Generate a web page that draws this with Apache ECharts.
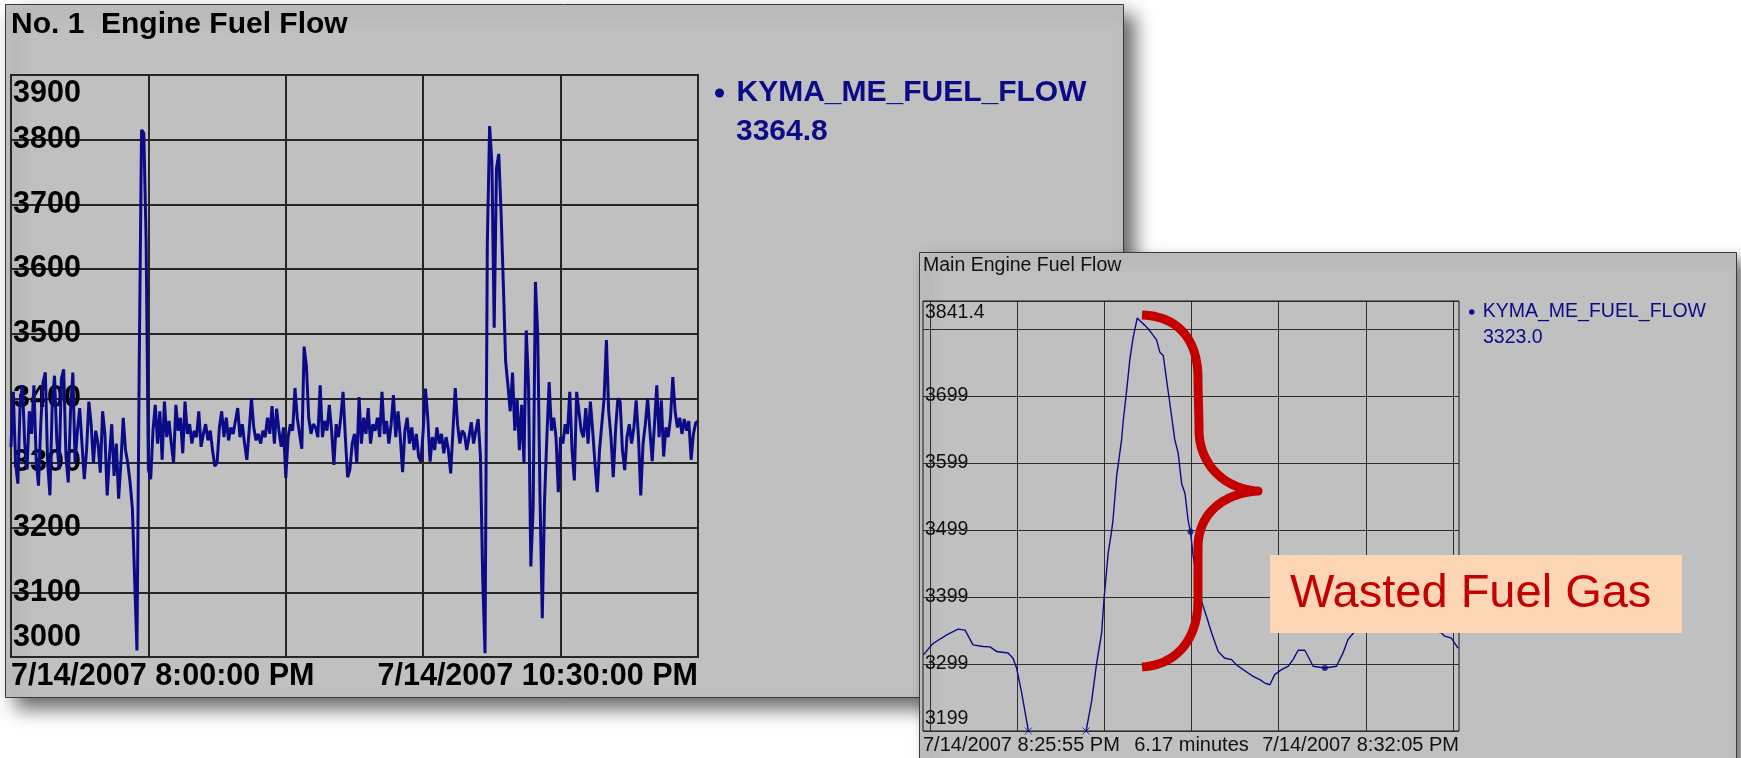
<!DOCTYPE html>
<html>
<head>
<meta charset="utf-8">
<title>Engine Fuel Flow</title>
<script src="https://cdn.jsdelivr.net/npm/echarts@6/dist/echarts.min.js"></script>
<style>
  html, body { margin: 0; padding: 0; background: #ffffff; }
  #chart { width: 1741px; height: 758px; }
</style>
</head>
<body>
<div id="chart"></div>
<script>
// ---- data -------------------------------------------------------------
const seriesName = 'KYMA_ME_FUEL_FLOW';

// No. 1 engine: one reading every 30 s, 8:00 PM .. 10:30 PM (x = minutes after 8:00 PM)
const leftStepMinutes = 0.5;
const leftValues = [
  3325, 3410, 3300, 3268, 3395, 3420, 3330, 3290, 3380, 3345,
  3420, 3305, 3265, 3360, 3425, 3440, 3300, 3250, 3390, 3435,
  3335, 3290, 3430, 3445, 3310, 3270, 3380, 3440, 3300, 3350,
  3385, 3330, 3275, 3320, 3395, 3360, 3300, 3350, 3330, 3285,
  3380, 3345, 3250, 3310, 3360, 3280, 3330, 3245, 3300, 3370,
  3320, 3300, 3270, 3230, 3120, 3010, 3455, 3815, 3810, 3645,
  3290, 3275, 3350, 3390, 3330, 3380, 3305, 3395, 3340, 3365,
  3330, 3300, 3390, 3350, 3370, 3315, 3395, 3345, 3360, 3330,
  3350, 3340, 3380, 3325, 3345, 3360, 3335, 3350, 3320, 3295,
  3300, 3355, 3380, 3340, 3370, 3335, 3355, 3345, 3365, 3385,
  3340, 3360, 3330, 3305, 3350, 3400, 3355, 3335, 3345, 3330,
  3350, 3340, 3370, 3345, 3388, 3330, 3384, 3350, 3325, 3355,
  3277, 3340, 3360, 3350, 3416, 3370, 3345, 3322, 3480, 3450,
  3370, 3345, 3360, 3355, 3340, 3420, 3340, 3365, 3350, 3390,
  3350, 3297, 3360, 3340, 3370, 3410, 3340, 3278, 3290, 3330,
  3345, 3300, 3402, 3330, 3370, 3345, 3385, 3330, 3360, 3350,
  3370, 3340, 3410, 3345, 3365, 3330, 3360, 3405, 3340, 3380,
  3340, 3286, 3350, 3370, 3330, 3355, 3320, 3345, 3310, 3302,
  3350, 3415, 3370, 3302, 3340, 3320, 3355, 3330, 3345, 3315,
  3340, 3320, 3284, 3350, 3416, 3360, 3330, 3350, 3345, 3320,
  3340, 3363, 3330, 3350, 3368, 3310, 3120, 3006, 3640, 3821,
  3764, 3509, 3756, 3778, 3688, 3575, 3457, 3420, 3380, 3440,
  3350, 3400, 3320, 3390, 3300, 3505, 3420, 3140, 3230, 3580,
  3500, 3250, 3060, 3243, 3340, 3425, 3350, 3370, 3340, 3255,
  3340, 3330, 3360, 3345, 3410, 3320, 3273, 3410, 3380, 3350,
  3340, 3385, 3330, 3395, 3350, 3300, 3255, 3320, 3360, 3400,
  3490, 3380, 3340, 3278, 3350, 3400, 3395, 3320, 3289, 3340,
  3360, 3330, 3355, 3397, 3340, 3250, 3330, 3360, 3400, 3350,
  3303, 3360, 3420, 3340, 3397, 3310, 3355, 3340, 3370, 3433,
  3380, 3355, 3370, 3345, 3368, 3350, 3365, 3305, 3345, 3362, 3364.8
];
const leftXRange = [0, 150];          // minutes
const leftYRange = [3000, 3900];
const leftTimeLabels = ['7/14/2007 8:00:00 PM', '7/14/2007 10:30:00 PM'];

// Main engine close-up: seconds after 8:25:55 PM and the archived value at that time
const rightSeconds = [
  -4.7, 0, 2.1, 11.8, 19.8, 24.8, 30.4, 37.5, 42.5, 47.2,
  55.2, 58.7, 61.3, 64.9, 69.5, 75, 80, 88, 96, 104,
  110.4, 114.4, 117.9, 121.5, 123.1, 126.1, 128.6, 129.5, 132.1, 135.6,
  136.8, 139.2, 141.5, 143.8, 146.7, 148.6, 152.1, 154.4, 158, 160.4,
  162.7, 165.1, 167.5, 169.8, 173.3, 175.7, 178.1, 180.5, 182.7, 184.4,
  186.3, 188.7, 192.2, 195.8, 199.3, 204, 208.7, 213.5, 217, 221.7,
  225.2, 228.7, 233.5, 237, 240.6, 244, 248.8, 253.5, 257, 260.6,
  265.3, 267.6, 271.2, 279.5, 287.7, 292.4, 295.9, 300.7, 303, 308,
  315, 322, 330, 337, 343, 362, 364.4, 369.1, 373.8
];
const rightValues = [
  3313, 3325, 3330, 3343, 3351.5, 3350, 3328, 3325.6, 3325, 3318,
  3315.8, 3308, 3293, 3256, 3201, 3140, 3100, 3080, 3090, 3140,
  3199, 3244, 3300, 3346, 3395, 3465, 3499, 3514, 3580, 3634,
  3663, 3708, 3755, 3787, 3816, 3812, 3805, 3800, 3790, 3783,
  3765, 3760, 3723, 3688, 3634, 3614, 3569, 3554, 3514, 3497,
  3460, 3430, 3393, 3370, 3346, 3318, 3308, 3306, 3298, 3291,
  3286, 3281, 3276, 3271, 3268.5, 3283.5, 3291, 3296, 3306, 3320,
  3320, 3311, 3296, 3293.5, 3296, 3316, 3336, 3348, 3358, 3375,
  3385, 3390, 3380, 3362, 3352, 3346, 3341, 3338, 3323.0
];
const rightMarkedReadings = [49, 73];          // readings shown with a dot
const rightOffScaleSeconds = [69.6, 110.4];    // where the trace leaves / re-enters the scale
const rightXRange = [-5, 374.5];               // seconds, full plot frame
const rightSpan = [0, 370];                    // 6.17 minute window
const rightYRange = [3199.4, 3841.4];
const rightTimeLabels = ['7/14/2007 8:25:55 PM', '6.17 minutes', '7/14/2007 8:32:05 PM'];

// ---- styling ----------------------------------------------------------
const FONT = '"Liberation Sans", Arial, sans-serif';
const NAVY = '#0b0b88';
const RED = '#c40000';
const near = (a, b) => Math.abs(a - b) < 0.01;

// flatten a chain of cubic Bézier segments into polyline points (for the brace)
function bezierChain(start, segments, steps) {
  const pts = [start.slice()];
  let p0 = start;
  segments.forEach(seg => {
    const [c1, c2, p3] = seg;
    for (let k = 1; k <= steps; k++) {
      const t = k / steps, u = 1 - t;
      pts.push([
        u * u * u * p0[0] + 3 * u * u * t * c1[0] + 3 * u * t * t * c2[0] + t * t * t * p3[0],
        u * u * u * p0[1] + 3 * u * u * t * c1[1] + 3 * u * t * t * c2[1] + t * t * t * p3[1]
      ]);
    }
    p0 = p3;
  });
  return pts;
}
const bracePoints = bezierChain([1142, 315], [
  [[1180, 316], [1198, 342], [1198, 378]],
  [[1198, 395], [1199, 413], [1199, 430]],
  [[1199, 462], [1222, 489], [1258, 491]],
  [[1225, 493], [1198, 512], [1198, 548]],
  [[1198, 565], [1198, 583], [1198, 600]],
  [[1198, 640], [1176, 665], [1142, 667]]
], 24);

const chart = echarts.init(document.getElementById('chart'), null, { renderer: 'canvas' });

const bigLabel = { fontFamily: FONT, fontSize: 30.5, fontWeight: 'bold', color: '#000' };
const smallLabel = { fontFamily: FONT, fontSize: 19.5, fontWeight: 'normal', color: '#111' };
const smallTimeLabel = { fontFamily: FONT, fontSize: 20, fontWeight: 'normal', color: '#111' };

const hiddenAxisParts = {
  axisLine: { show: false },
  axisTick: { show: false }
};

const option = {
  animation: false,
  backgroundColor: '#ffffff',
  title: [
    { text: 'No. 1  Engine Fuel Flow', left: 11, top: 10, padding: 0, z: 3,
      textStyle: { fontFamily: FONT, fontSize: 30, fontWeight: 'bold', color: '#000' } },
    { text: 'Main Engine Fuel Flow', left: 923, top: 256, padding: 0, z: 7,
      textStyle: { fontFamily: FONT, fontSize: 19.5, fontWeight: 'normal', color: '#111' } }
  ],
  legend: [
    { left: 715, top: 78, padding: 0, icon: 'circle', itemWidth: 24, itemHeight: 9,
      selectedMode: false, data: [seriesName], z: 3,
      textStyle: { fontFamily: FONT, fontSize: 30, fontWeight: 'bold', color: NAVY } },
    { left: 1469, top: 302, padding: 0, icon: 'circle', itemWidth: 12, itemHeight: 5.5,
      selectedMode: false, data: [seriesName], z: 7,
      textStyle: { fontFamily: FONT, fontSize: 19.5, color: NAVY } }
  ],
  grid: [
    { left: 11, top: 75, width: 687, height: 582, show: true, borderColor: '#111', borderWidth: 2, z: 1 },
    { left: 923, top: 301, width: 536, height: 430, show: true, borderColor: '#151515', borderWidth: 1, z: 5 },
    { left: 930, top: 301, width: 523, height: 430, show: false, z: 5 }
  ],
  xAxis: [
    // left trend: 30 minute divisions, start label
    { gridIndex: 0, type: 'value', position: 'bottom', min: leftXRange[0], max: leftXRange[1], interval: 30, z: 1,
      ...hiddenAxisParts,
      splitLine: { show: true, lineStyle: { color: '#262626', width: 2 } },
      axisLabel: { ...bigLabel, margin: 4, align: 'left', showMinLabel: true, showMaxLabel: true,
        formatter: v => near(v, leftXRange[0]) ? leftTimeLabels[0] : '' } },
    // left trend: end label
    { gridIndex: 0, type: 'value', position: 'bottom', min: leftXRange[0], max: leftXRange[1], interval: 30, z: 1,
      ...hiddenAxisParts, splitLine: { show: false },
      axisLabel: { ...bigLabel, margin: 4, align: 'right', showMinLabel: true, showMaxLabel: true,
        formatter: v => near(v, leftXRange[1]) ? leftTimeLabels[1] : '' } },
    // close-up: data axis over the full frame, start label
    { gridIndex: 1, type: 'value', position: 'bottom', min: rightXRange[0], max: rightXRange[1],
      interval: rightXRange[1] - rightXRange[0], z: 5,
      ...hiddenAxisParts, splitLine: { show: false },
      axisLabel: { ...smallTimeLabel, margin: 4, align: 'left', showMinLabel: true, showMaxLabel: true,
        formatter: v => near(v, rightXRange[0]) ? rightTimeLabels[0] : '' } },
    // close-up: end label
    { gridIndex: 1, type: 'value', position: 'bottom', min: rightXRange[0], max: rightXRange[1],
      interval: rightXRange[1] - rightXRange[0], z: 5,
      ...hiddenAxisParts, splitLine: { show: false },
      axisLabel: { ...smallTimeLabel, margin: 4, align: 'right', showMinLabel: true, showMaxLabel: true,
        formatter: v => near(v, rightXRange[1]) ? rightTimeLabels[2] : '' } },
    // close-up: six divisions of the 6.17 minute window, span label in the middle
    { gridIndex: 2, type: 'value', position: 'bottom', min: rightSpan[0], max: rightSpan[1],
      interval: (rightSpan[1] - rightSpan[0]) / 6, z: 5,
      ...hiddenAxisParts,
      splitLine: { show: true, lineStyle: { color: '#2e2e2e', width: 1 } },
      axisLabel: { ...smallTimeLabel, margin: 4, align: 'center', showMinLabel: true, showMaxLabel: true,
        formatter: v => near(v, (rightSpan[0] + rightSpan[1]) / 2) ? rightTimeLabels[1] : '' } }
  ],
  yAxis: [
    { gridIndex: 0, type: 'value', min: leftYRange[0], max: leftYRange[1], interval: 100, z: 1,
      ...hiddenAxisParts,
      splitLine: { show: true, lineStyle: { color: '#262626', width: 2 } },
      axisLabel: { ...bigLabel, inside: true, margin: 2, lineHeight: 38,
        showMinLabel: true, showMaxLabel: true,
        formatter: v => near(v, leftYRange[1]) ? '\n' + v : near(v, leftYRange[0]) ? v + '\n' : String(v) } },
    { gridIndex: 1, type: 'value', min: rightYRange[0], max: rightYRange[1], interval: 100, z: 5,
      ...hiddenAxisParts,
      splitLine: { show: true, lineStyle: { color: '#2e2e2e', width: 1 } },
      axisLabel: { ...smallLabel, inside: true, margin: 2, lineHeight: 24,
        showMinLabel: true, showMaxLabel: true,
        formatter: v => {
          if (near(v, rightYRange[1])) return '\n' + rightYRange[1].toFixed(1);
          if (near(v, rightYRange[0])) return Math.floor(v) + '\n';
          if (rightYRange[1] - v < 60) return '';
          return String(Math.floor(v));
        } } },
    { gridIndex: 2, type: 'value', min: 0, max: 1, show: false }
  ],
  series: [
    { name: seriesName, type: 'line', xAxisIndex: 0, yAxisIndex: 0, z: 2,
      data: leftValues.map((v, i) => [i * leftStepMinutes, v]),
      showSymbol: false, clip: true,
      lineStyle: { color: NAVY, width: 3 }, itemStyle: { color: NAVY } },
    { name: seriesName, type: 'line', xAxisIndex: 2, yAxisIndex: 1, z: 6,
      data: rightSeconds.map((t, i) => [t, rightValues[i]]),
      showSymbol: false, clip: true,
      lineStyle: { color: NAVY, width: 1.4 }, itemStyle: { color: NAVY } },
    { name: 'marked readings', type: 'scatter', xAxisIndex: 2, yAxisIndex: 1, z: 7,
      data: rightMarkedReadings.map(i => [rightSeconds[i], rightValues[i]]),
      symbol: 'circle', symbolSize: 6, itemStyle: { color: NAVY } },
    { name: 'off scale', type: 'scatter', xAxisIndex: 2, yAxisIndex: 1, z: 7, clip: false,
      data: rightOffScaleSeconds.map(t => [t, rightYRange[0]]),
      symbol: 'path://M0,0L10,10M10,0L0,10', symbolSize: 7,
      itemStyle: { color: 'none', borderColor: NAVY, borderWidth: 1 } }
  ],
  graphic: [
    // panel behind the long trend
    { type: 'rect', z: 0, silent: true,
      shape: { x: 5.5, y: 4.5, width: 1118, height: 693 },
      style: { fill: '#c0c0c0', stroke: '#3a3a3a', lineWidth: 1,
        shadowBlur: 18, shadowColor: 'rgba(0,0,0,0.6)', shadowOffsetX: 10, shadowOffsetY: 10 } },
    { type: 'text', z: 3, silent: true, x: 736, y: 132,
      style: { text: leftValues[leftValues.length - 1].toFixed(1), fill: NAVY,
        font: 'bold 30px "Liberation Sans", Arial, sans-serif', align: 'left', verticalAlign: 'middle' } },
    // panel behind the close-up
    { type: 'rect', z: 4, silent: true,
      shape: { x: 919.5, y: 252.5, width: 817, height: 540 },
      style: { fill: '#c0c0c0', stroke: '#3a3a3a', lineWidth: 1,
        shadowBlur: 14, shadowColor: 'rgba(0,0,0,0.55)', shadowOffsetX: 8, shadowOffsetY: 8 } },
    { type: 'text', z: 7, silent: true, x: 1483, y: 338,
      style: { text: rightValues[rightValues.length - 1].toFixed(1), fill: NAVY,
        font: '19.5px "Liberation Sans", Arial, sans-serif', align: 'left', verticalAlign: 'middle' } },
    // brace over the burst
    { type: 'polyline', z: 9, silent: true,
      shape: { points: bracePoints },
      style: { fill: 'none', stroke: RED, lineWidth: 9, lineJoin: 'round', lineCap: 'butt' } },
    { type: 'rect', z: 9, silent: true,
      shape: { x: 1270, y: 555, width: 412, height: 78 },
      style: { fill: '#fcd5b4' } },
    { type: 'text', z: 10, silent: true, x: 1290, y: 594,
      style: { text: 'Wasted Fuel Gas', fill: RED,
        font: '47px "Liberation Sans", Arial, sans-serif', align: 'left', verticalAlign: 'middle' } }
  ]
};

chart.setOption(option);
</script>
</body>
</html>
